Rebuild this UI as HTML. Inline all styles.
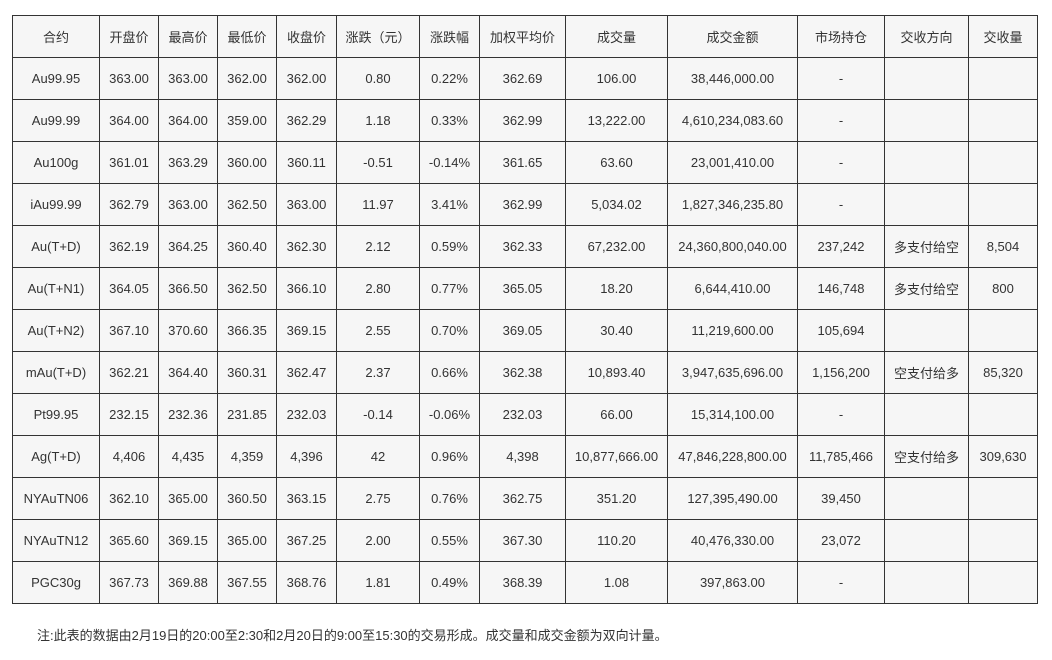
<!DOCTYPE html>
<html><head><meta charset="utf-8"><style>
body{margin:0;background:#fff;width:1052px;height:660px;font-family:"Liberation Sans","Noto Sans CJK SC",sans-serif;color:#333;}
table{position:absolute;left:12px;top:15px;border-collapse:collapse;table-layout:fixed;}
td{border:1px solid #333;background:#f6f6f6;height:41px;padding:0;text-align:center;font-size:13px;white-space:nowrap;}
.note{position:absolute;left:37px;top:625px;font-size:13px;}
</style></head><body>
<table>
<colgroup><col style="width:87px"><col style="width:59px"><col style="width:59px"><col style="width:59px"><col style="width:60px"><col style="width:83px"><col style="width:60px"><col style="width:86px"><col style="width:102px"><col style="width:130px"><col style="width:87px"><col style="width:84px"><col style="width:69px"></colgroup>
<tr><td>合约</td><td>开盘价</td><td>最高价</td><td>最低价</td><td>收盘价</td><td>涨跌（元）</td><td>涨跌幅</td><td>加权平均价</td><td>成交量</td><td>成交金额</td><td>市场持仓</td><td>交收方向</td><td>交收量</td></tr>
<tr><td>Au99.95</td><td>363.00</td><td>363.00</td><td>362.00</td><td>362.00</td><td>0.80</td><td>0.22%</td><td>362.69</td><td>106.00</td><td>38,446,000.00</td><td>-</td><td></td><td></td></tr>
<tr><td>Au99.99</td><td>364.00</td><td>364.00</td><td>359.00</td><td>362.29</td><td>1.18</td><td>0.33%</td><td>362.99</td><td>13,222.00</td><td>4,610,234,083.60</td><td>-</td><td></td><td></td></tr>
<tr><td>Au100g</td><td>361.01</td><td>363.29</td><td>360.00</td><td>360.11</td><td>-0.51</td><td>-0.14%</td><td>361.65</td><td>63.60</td><td>23,001,410.00</td><td>-</td><td></td><td></td></tr>
<tr><td>iAu99.99</td><td>362.79</td><td>363.00</td><td>362.50</td><td>363.00</td><td>11.97</td><td>3.41%</td><td>362.99</td><td>5,034.02</td><td>1,827,346,235.80</td><td>-</td><td></td><td></td></tr>
<tr><td>Au(T+D)</td><td>362.19</td><td>364.25</td><td>360.40</td><td>362.30</td><td>2.12</td><td>0.59%</td><td>362.33</td><td>67,232.00</td><td>24,360,800,040.00</td><td>237,242</td><td>多支付给空</td><td>8,504</td></tr>
<tr><td>Au(T+N1)</td><td>364.05</td><td>366.50</td><td>362.50</td><td>366.10</td><td>2.80</td><td>0.77%</td><td>365.05</td><td>18.20</td><td>6,644,410.00</td><td>146,748</td><td>多支付给空</td><td>800</td></tr>
<tr><td>Au(T+N2)</td><td>367.10</td><td>370.60</td><td>366.35</td><td>369.15</td><td>2.55</td><td>0.70%</td><td>369.05</td><td>30.40</td><td>11,219,600.00</td><td>105,694</td><td></td><td></td></tr>
<tr><td>mAu(T+D)</td><td>362.21</td><td>364.40</td><td>360.31</td><td>362.47</td><td>2.37</td><td>0.66%</td><td>362.38</td><td>10,893.40</td><td>3,947,635,696.00</td><td>1,156,200</td><td>空支付给多</td><td>85,320</td></tr>
<tr><td>Pt99.95</td><td>232.15</td><td>232.36</td><td>231.85</td><td>232.03</td><td>-0.14</td><td>-0.06%</td><td>232.03</td><td>66.00</td><td>15,314,100.00</td><td>-</td><td></td><td></td></tr>
<tr><td>Ag(T+D)</td><td>4,406</td><td>4,435</td><td>4,359</td><td>4,396</td><td>42</td><td>0.96%</td><td>4,398</td><td>10,877,666.00</td><td>47,846,228,800.00</td><td>11,785,466</td><td>空支付给多</td><td>309,630</td></tr>
<tr><td>NYAuTN06</td><td>362.10</td><td>365.00</td><td>360.50</td><td>363.15</td><td>2.75</td><td>0.76%</td><td>362.75</td><td>351.20</td><td>127,395,490.00</td><td>39,450</td><td></td><td></td></tr>
<tr><td>NYAuTN12</td><td>365.60</td><td>369.15</td><td>365.00</td><td>367.25</td><td>2.00</td><td>0.55%</td><td>367.30</td><td>110.20</td><td>40,476,330.00</td><td>23,072</td><td></td><td></td></tr>
<tr><td>PGC30g</td><td>367.73</td><td>369.88</td><td>367.55</td><td>368.76</td><td>1.81</td><td>0.49%</td><td>368.39</td><td>1.08</td><td>397,863.00</td><td>-</td><td></td><td></td></tr>
</table>
<div class="note">注:此表的数据由2月19日的20:00至2:30和2月20日的9:00至15:30的交易形成。成交量和成交金额为双向计量。</div>
</body></html>
